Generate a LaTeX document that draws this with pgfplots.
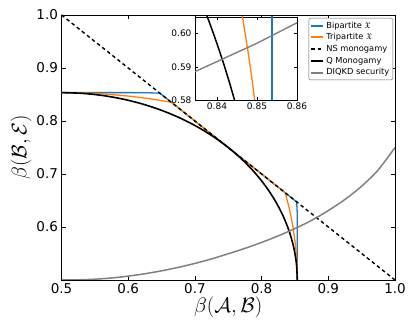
\documentclass[border=0pt]{standalone}
\usepackage{fontspec}
\setmainfont{DejaVu Sans}
\usepackage{amssymb}
\usepackage{fix-cm}
\usepackage{pgfplots}
\pgfplotsset{compat=1.18}
\definecolor{tabblue}{HTML}{1F77B4}
\definecolor{taborange}{HTML}{FF7F0E}
\definecolor{tabgray}{HTML}{808080}
\begin{document}
\begin{tikzpicture}[x=1pt,y=1pt]
\path[use as bounding box] (0,0) rectangle (415,332);
\begin{axis}[
  at={(61.5pt,52pt)}, anchor=south west, scale only axis,
  width=333.5pt, height=265pt,
  xmin=0.5, xmax=1.0, ymin=0.5, ymax=1.0,
  xtick={0.5,0.6,0.7,0.8,0.9,1.0}, xticklabels={0.5,0.6,0.7,0.8,0.9,1.0},
  ytick={0.6,0.7,0.8,0.9,1.0}, yticklabels={0.6,0.7,0.8,0.9,1.0},
  /pgf/number format/assume math mode=true,
  tick align=inside, major tick length=4pt,
  tick style={black, line width=0.6pt},
  axis line style={line width=0.8pt},
  ticklabel style={font=\fontsize{13.5}{14}\selectfont},
  xlabel={$\beta(\mathcal{A},\mathcal{B})$},
  ylabel={$\beta(\mathcal{B},\mathcal{E})$},
  label style={font=\fontsize{21}{24}\selectfont},
  xlabel style={yshift=4pt},
  ylabel style={yshift=-2pt},
  legend style={at={(1,1)}, anchor=north east, xshift=-2pt, yshift=-3pt,
    font=\fontsize{8.3}{9}\selectfont, draw=black!60, fill=white, rounded corners=2pt,
    inner sep=1.5pt, row sep=0pt, cells={anchor=west}},
  legend image code/.code={\draw[#1] (0pt,0pt) -- (12pt,0pt);},
]
\addlegendimage{draw=tabblue, line width=2pt}
\addlegendentry{Bipartite $\mathfrak{X}$}
\addlegendimage{draw=taborange, line width=2pt}
\addlegendentry{Tripartite $\mathfrak{X}$}
\addlegendimage{draw=black, line width=1.4pt, dash pattern=on 3.5pt off 3pt}
\addlegendentry{NS monogamy}
\addlegendimage{draw=black, line width=1.6pt}
\addlegendentry{Q Monogamy}
\addlegendimage{draw=tabgray, line width=2pt}
\addlegendentry{DIQKD security}
\addplot[tabblue, line width=1.3pt, forget plot] coordinates {
(0.5,0.85355) (0.56,0.8535) (0.60,0.85355) (0.63,0.8533) (0.6475,0.8525)
(0.8525,0.6475) (0.8533,0.63) (0.85355,0.60) (0.85355,0.56) (0.85355,0.5)};
\addplot[taborange, line width=1.3pt, forget plot] coordinates {
(0.5,0.85355) (0.52,0.8533) (0.54,0.85253) (0.56,0.85125) (0.58,0.84942)
(0.60,0.84705) (0.62,0.84411) (0.64,0.84055) (0.66,0.83633) (0.6648,0.8352)
(0.8352,0.6648) (0.83633,0.66) (0.84055,0.64) (0.84411,0.62) (0.84705,0.60)
(0.84942,0.58) (0.85125,0.56) (0.85253,0.54) (0.8533,0.52) (0.85355,0.5)};
\addplot[black, line width=1.4pt, dash pattern=on 3.5pt off 3pt, forget plot] coordinates {(0.5,1.0) (1.0,0.5)};
\addplot[black, line width=1.6pt, smooth, forget plot] coordinates {
(0.5,0.853553) (0.530814,0.852208) (0.561394,0.848182) (0.591506,0.841506)
(0.620922,0.832232) (0.649418,0.820428) (0.676777,0.806186) (0.702790,0.789614)
(0.727262,0.770838) (0.75,0.75) (0.770838,0.727262) (0.789614,0.702790)
(0.806186,0.676777) (0.820428,0.649418) (0.832232,0.620922) (0.841506,0.591506)
(0.848182,0.561394) (0.852208,0.530814) (0.853553,0.5)};
\addplot[tabgray, line width=1.5pt, smooth, forget plot] coordinates {
(0.500,0.5000) (0.525,0.5004) (0.550,0.5015) (0.575,0.5038) (0.600,0.5073)
(0.625,0.5118) (0.650,0.5173) (0.675,0.5238) (0.700,0.5313) (0.725,0.5398)
(0.750,0.5495) (0.775,0.5597) (0.800,0.5709) (0.825,0.5833) (0.850,0.5971)
(0.875,0.6125) (0.900,0.6310) (0.925,0.6520) (0.950,0.6770) (0.975,0.7080)
(1.000,0.7500)};
\end{axis}
\begin{axis}[
  at={(195pt,232pt)}, anchor=south west, scale only axis,
  width=102pt, height=83pt,
  xmin=0.8345, xmax=0.86, ymin=0.58, ymax=0.605,
  xtick={0.84,0.85,0.86}, xticklabels={0.84,0.85,0.86},
  ytick={0.58,0.59,0.60}, yticklabels={0.58,0.59,0.60},
  tick align=inside, major tick length=3pt,
  tick style={black, line width=0.5pt},
  axis line style={line width=0.8pt},
  ticklabel style={font=\fontsize{9}{9}\selectfont},
  xticklabel style={yshift=1pt},
  axis background/.style={fill=white},
]
\addplot[tabblue, line width=1.3pt] coordinates {(0.85375,0.575) (0.85375,0.61)};
\addplot[taborange, line width=1.3pt] coordinates {
(0.84993,0.575) (0.84942,0.58) (0.84889,0.585) (0.84831,0.59) (0.84770,0.595)
(0.84705,0.60) (0.84637,0.605) (0.84566,0.61)};
\addplot[black, line width=1.5pt] coordinates {
(0.84551,0.575) (0.84438,0.58) (0.84318,0.585) (0.84191,0.59) (0.84055,0.595)
(0.83912,0.60) (0.83760,0.605) (0.83601,0.61)};
\addplot[tabgray, line width=1.4pt] coordinates {
(0.800,0.5709) (0.825,0.5833) (0.850,0.5971) (0.875,0.6125) (0.900,0.6310)};
\end{axis}
\end{tikzpicture}
\end{document}
